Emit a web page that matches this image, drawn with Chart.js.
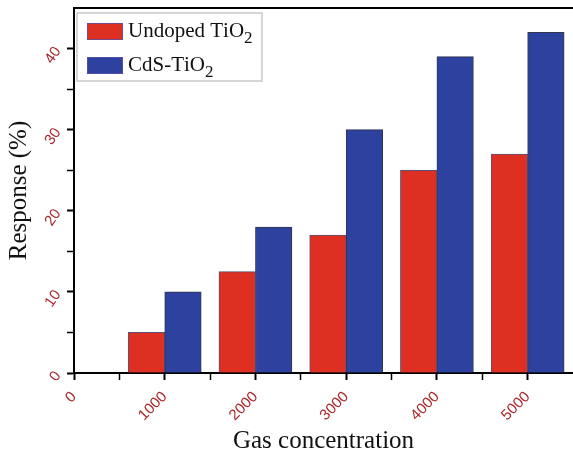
<!DOCTYPE html>
<html>
<head>
<meta charset="utf-8">
<script src="https://cdn.jsdelivr.net/npm/chart.js@4"></script>
<style>
  html, body { margin: 0; padding: 0; background: #fff; }
  #wrap { width: 573px; height: 454px; }
</style>
</head>
<body>
<div id="wrap"><canvas id="gasChart"></canvas></div>
<script>
// ===========[Data]===========
const concentrations = [1000, 2000, 3000, 4000, 5000];
const undopedTiO2 = [5, 12.5, 17, 25, 27];
const cdsTiO2 = [10, 18, 30, 39, 42];
const seriesNames = ['Undoped TiO₂', 'CdS-TiO₂'];

const tickRed = 'rgb(168,40,44)';

// ===========[Frame line on top + legend inside the plot]===========
const frameAndLegend = {
    id: 'frameAndLegend',
    afterDraw(chart) {
        const ctx = chart.ctx;
        const area = chart.chartArea;
        ctx.save();
        // top frame
        ctx.strokeStyle = '#000';
        ctx.lineWidth = 2;
        ctx.beginPath();
        ctx.moveTo(area.left - 1, area.top);
        ctx.lineTo(area.right, area.top);
        ctx.stroke();

        // legend box
        const bx = area.left + 3, by = area.top + 5;
        const bigFont = '21px "Liberation Serif", "Times New Roman", serif';
        const subFont = '17px "Liberation Serif", "Times New Roman", serif';
        const subs = { '₂': '2' };
        const rows = [15, 49];

        ctx.fillStyle = '#fff';
        ctx.fillRect(bx, by, 185, 68);
        ctx.strokeStyle = '#c8c8c8';
        ctx.lineWidth = 1.5;
        ctx.strokeRect(bx, by, 185, 68);

        chart.data.datasets.forEach((ds, i) => {
            const sy = area.top + rows[i];
            ctx.fillStyle = ds.backgroundColor;
            ctx.fillRect(area.left + 13, sy, 36, 17);
            ctx.strokeStyle = 'rgba(90,80,170,0.8)';
            ctx.lineWidth = 1;
            ctx.strokeRect(area.left + 13.5, sy + 0.5, 35, 16);

            let tx = area.left + 54;
            const base = sy + 14;
            ctx.fillStyle = '#111';
            ctx.textBaseline = 'alphabetic';
            ctx.textAlign = 'left';
            for (const ch of ds.label) {
                if (subs[ch]) {
                    ctx.font = subFont;
                    ctx.fillText(subs[ch], tx, base + 6);
                    tx += ctx.measureText(subs[ch]).width;
                } else {
                    ctx.font = bigFont;
                    ctx.fillText(ch, tx, base);
                    tx += ctx.measureText(ch).width;
                }
            }
        });
        ctx.restore();
    }
};

// ===========[Chart]===========
const gasData = {
    datasets: [{
        label: seriesNames[0],
        data: concentrations.map((c, i) => ({ x: c, y: undopedTiO2[i] })),
        backgroundColor: 'rgb(221,48,35)',
        borderColor: 'rgba(60,50,90,0.85)',
        borderWidth: 1
    }, {
        label: seriesNames[1],
        data: concentrations.map((c, i) => ({ x: c, y: cdsTiO2[i] })),
        backgroundColor: 'rgb(45,66,158)',
        borderColor: 'rgba(30,30,60,0.9)',
        borderWidth: 1
    }]
};

const gasConfig = {
    type: 'bar',
    data: gasData,
    options: {
        responsive: true,
        maintainAspectRatio: false,
        animation: false,
        barThickness: 36.5,
        layout: { padding: { top: 8, right: 0, left: 0, bottom: 0 } },
        plugins: {
            legend: { display: false },
            tooltip: { enabled: false }
        },
        scales: {
            x: {
                type: 'linear',
                min: 0,
                max: 5500,
                offset: false,
                afterFit: (scale) => {
                    scale.height = 81;
                    scale.paddingLeft = 0;
                    scale.paddingRight = 0;
                },
                grid: {
                    offset: false,
                    drawOnChartArea: false,
                    drawTicks: true,
                    tickLength: 7,
                    tickColor: (c) => (c.tick && c.tick.value === 5500) ? 'rgba(0,0,0,0)' : '#000',
                    tickWidth: (c) => (c.tick && c.tick.value % 1000 === 0) ? 2 : 1.5
                },
                border: { color: '#000', width: 2 },
                ticks: {
                    stepSize: 500,
                    autoSkip: false,
                    minRotation: 45,
                    maxRotation: 45,
                    padding: 8,
                    color: tickRed,
                    font: { family: '"Liberation Sans", Arial, sans-serif', size: 15 },
                    callback: (v) => (v % 1000 === 0 && v <= 5000) ? String(v) : ''
                },
                title: {
                    display: true,
                    text: 'Gas concentration',
                    color: '#111',
                    padding: { top: 0, bottom: 0 },
                    font: { family: '"Liberation Serif", "Times New Roman", serif', size: 25, lineHeight: 1 }
                }
            },
            y: {
                min: 0,
                max: 45,
                afterFit: (scale) => {
                    scale.width = 74;
                    scale.paddingTop = 0;
                    scale.paddingBottom = 0;
                },
                grid: {
                    drawOnChartArea: false,
                    drawTicks: true,
                    tickLength: 7,
                    tickColor: (c) => (c.tick && c.tick.value === 45) ? 'rgba(0,0,0,0)' : '#000',
                    tickWidth: (c) => (c.tick && c.tick.value % 10 === 0) ? 2 : 1.5
                },
                border: { color: '#000', width: 2 },
                ticks: {
                    stepSize: 5,
                    minRotation: 55,
                    maxRotation: 55,
                    padding: 9,
                    color: tickRed,
                    font: { family: '"Liberation Sans", Arial, sans-serif', size: 15 },
                    callback: (v) => (v % 10 === 0) ? String(v) : ''
                },
                title: {
                    display: true,
                    text: 'Response (%)',
                    color: '#111',
                    padding: { top: 7, bottom: 0 },
                    font: { family: '"Liberation Serif", "Times New Roman", serif', size: 25, lineHeight: 1 }
                }
            }
        }
    },
    plugins: [frameAndLegend]
};

const gasChart = new Chart(document.getElementById('gasChart'), gasConfig);
</script>
</body>
</html>
